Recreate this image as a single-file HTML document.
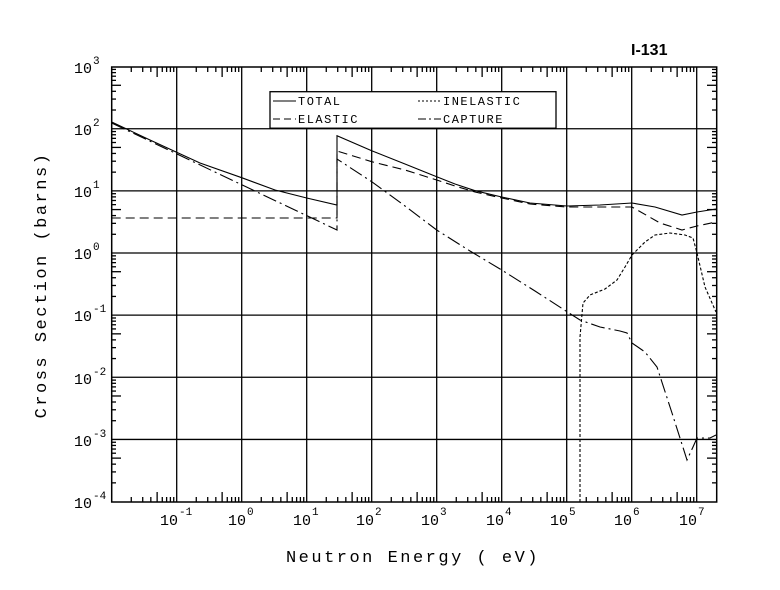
<!DOCTYPE html>
<html><head><meta charset="utf-8"><style>
html,body{margin:0;padding:0;background:#fff;}
svg{display:block;font-family:"Liberation Mono",monospace;}
</style></head><body>
<svg id="s" width="780" height="590" viewBox="0 0 780 590" xmlns="http://www.w3.org/2000/svg">
<rect width="780" height="590" fill="#fff"/>
<g id="grid" stroke="#000" stroke-width="1.3" fill="none"></g>
<rect x="111.7" y="67" width="605" height="435" fill="none" stroke="#000" stroke-width="1.5"/>
<g fill="none" stroke="#000" stroke-width="1.1">
<path id="total" d=""/>
<path id="elastic" d="" stroke-dasharray="9,5"/>
<path id="capture" d="" stroke-dasharray="14,4,2,4"/>
<path id="inel" d="" stroke-dasharray="3,2"/>
</g>
<rect x="270" y="91.7" width="286" height="36.5" fill="#fff" stroke="#000" stroke-width="1.3"/>
<g stroke="#000" stroke-width="1.1">
<line x1="273" y1="101" x2="296" y2="101"/>
<line x1="273" y1="119" x2="296" y2="119" stroke-dasharray="7,4"/>
<line x1="418" y1="101" x2="441" y2="101" stroke-dasharray="2,2"/>
<line x1="418" y1="119" x2="441" y2="119" stroke-dasharray="8,3,2,3"/>
</g>
<g font-size="12" fill="#000" letter-spacing="1.5">
<text x="298" y="105">TOTAL</text>
<text x="298" y="123">ELASTIC</text>
<text x="443" y="105">INELASTIC</text>
<text x="443" y="123">CAPTURE</text>
</g>
<text x="631" y="55" font-family="Liberation Sans, sans-serif" font-weight="bold" font-size="16">I-131</text>
<g font-size="15" fill="#000" text-anchor="end">
<text x="92" y="73">10</text><text x="92" y="135">10</text><text x="92" y="197">10</text><text x="92" y="259">10</text>
<text x="92" y="321">10</text><text x="92" y="384">10</text><text x="92" y="446">10</text><text x="92" y="508">10</text>
</g>
<g font-size="11" fill="#000">
<text x="93" y="64">3</text><text x="93" y="126">2</text><text x="93" y="188">1</text><text x="93" y="250">0</text>
<text x="93" y="312">-1</text><text x="93" y="375">-2</text><text x="93" y="437">-3</text><text x="93" y="499">-4</text>
</g>
<g font-size="15" fill="#000">
<text x="160" y="525">10</text><text x="228" y="525">10</text><text x="293" y="525">10</text><text x="356" y="525">10</text>
<text x="421" y="525">10</text><text x="486" y="525">10</text><text x="550" y="525">10</text><text x="614" y="525">10</text><text x="679" y="525">10</text>
</g>
<g font-size="11" fill="#000">
<text x="179" y="515">-1</text><text x="247" y="515">0</text><text x="312" y="515">1</text><text x="375" y="515">2</text>
<text x="440" y="515">3</text><text x="505" y="515">4</text><text x="569" y="515">5</text><text x="633" y="515">6</text><text x="698" y="515">7</text>
</g>
<text x="413" y="562" font-size="17" text-anchor="middle" letter-spacing="2.5">Neutron Energy ( eV)</text>
<text transform="translate(46,285) rotate(-90)" font-size="17" text-anchor="middle" letter-spacing="2.5">Cross Section (barns)</text>
</svg>
<script>
var X=function(l){return 241.7+65*l}, Y=function(l){return 253-62.14*l};
var g=document.getElementById('grid'),h='';
for(var d=-1;d<=7;d++){h+='<line x1="'+X(d)+'" y1="67" x2="'+X(d)+'" y2="502"/>';}
for(var d=-3;d<=2;d++){h+='<line x1="111.7" y1="'+Y(d)+'" x2="716.7" y2="'+Y(d)+'"/>';}
for(var d=-2;d<=7;d++)for(var m=2;m<=9;m++){var x=X(d+Math.log10(m));if(x>716)continue;
 h+='<line x1="'+x+'" y1="67" x2="'+x+'" y2="'+(m==5?77:72)+'"/><line x1="'+x+'" y1="502" x2="'+x+'" y2="'+(m==5?492:497)+'"/>';}
for(var d=-4;d<=2;d++)for(var m=2;m<=9;m++){var y=Y(d+Math.log10(m));
 h+='<line x1="111.7" y1="'+y+'" x2="'+(m==5?121:116)+'" y2="'+y+'"/><line x1="716.7" y1="'+y+'" x2="'+(m==5?707:712)+'" y2="'+y+'"/>';}
g.innerHTML=h;
function P(a){return 'M'+a.map(function(p){return p[0]+','+p[1]}).join(' L');}
document.getElementById('total').setAttribute('d',P([[111.7,122],[150,140],[200,163],[241.7,177.7],[275,190],[306.7,198],[337,205],[337,135.7],[371.7,150.7],[405,164],[436.7,176.7],[455,184],[475,190.7],[501.7,197],[530,203],[567,206],[600,205],[632,203],[655,207],[682,215],[697,212],[716,209]]));
document.getElementById('elastic').setAttribute('d',P([[111.7,218],[337,218],[337,151],[371.7,161.7],[405,170],[436.7,180],[455,186],[475,192],[501.7,198],[530,204],[567,207],[600,207],[632,207],[660,223],[682,230],[697,226],[716,222]]));
document.getElementById('capture').setAttribute('d',P([[111.7,123],[337,230],[337,159],[371.7,181.7],[405,206],[436.7,230],[470,251],[501.7,270],[535,291],[567,311.7],[580,320],[600,327],[620,331],[627,333],[632,343],[645,352],[657,367],[672,413],[687,460],[693,447],[697,438],[710,438],[716,435]]));
document.getElementById('inel').setAttribute('d',P([[580,502],[580,337],[583,303],[590,295],[605,289],[617,280],[625,267],[632,255],[645,242],[655,235],[670,233],[685,235],[693,238],[697,253],[705,287],[716,312]]));
</script>
</body></html>
